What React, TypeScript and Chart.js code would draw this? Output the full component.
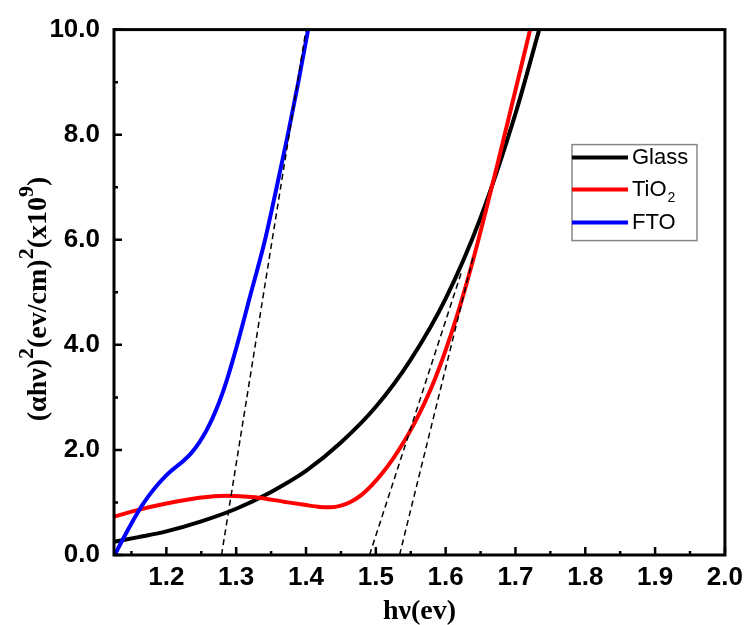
import React, { useEffect, useRef } from "react";
import { Chart, registerables } from "chart.js";

Chart.register(...registerables);

// ---- data ----
const glassX = [1.125, 1.16, 1.2, 1.25, 1.3, 1.35, 1.4, 1.45, 1.5, 1.55, 1.6, 1.65, 1.7, 1.734];
const glassY = [0.25, 0.34, 0.45, 0.64, 0.88, 1.2, 1.6, 2.14, 2.82, 3.72, 4.88, 6.42, 8.4, 10.0];

const tio2X = [1.125, 1.16, 1.2, 1.247, 1.285, 1.327, 1.37, 1.4, 1.42, 1.435, 1.45, 1.465, 1.48, 1.495, 1.51, 1.525, 1.54, 1.555, 1.57, 1.585, 1.6, 1.615, 1.63, 1.645, 1.66, 1.675, 1.69, 1.705, 1.721];
const tio2Y = [0.73, 0.86, 0.98, 1.09, 1.13, 1.1, 1.01, 0.95, 0.915, 0.91, 0.94, 1.02, 1.15, 1.34, 1.57, 1.84, 2.15, 2.5, 2.9, 3.36, 3.9, 4.5, 5.17, 5.9, 6.68, 7.48, 8.3, 9.12, 10.0];

const ftoX = [1.126, 1.133, 1.145, 1.155, 1.165, 1.175, 1.185, 1.195, 1.205, 1.215, 1.225, 1.235, 1.247, 1.257, 1.266, 1.276, 1.285, 1.301, 1.321, 1.341, 1.358, 1.374, 1.389, 1.403];
const ftoY = [0, 0.18, 0.48, 0.72, 0.94, 1.13, 1.3, 1.45, 1.58, 1.69, 1.8, 1.93, 2.14, 2.36, 2.6, 2.92, 3.26, 3.98, 4.98, 5.98, 7.0, 8.0, 9.0, 10.0];

// tangent (extrapolation) lines: [x0, x1], [y0, y1]
const ftoFitX = [1.279, 1.4];
const ftoFitY = [0, 10];
const glassFitX = [1.491, 1.623];
const glassFitY = [0, 5.4];
const tio2FitX = [1.534, 1.64];
const tio2FitY = [0, 5.71];

const xMajorTicks = [1.2, 1.3, 1.4, 1.5, 1.6, 1.7, 1.8, 1.9, 2.0];
const xMinorTicks = [1.15, 1.25, 1.35, 1.45, 1.55, 1.65, 1.75, 1.85, 1.95];
const yMajorTicks = [0, 2, 4, 6, 8, 10];
const yMinorTicks = [1, 3, 5, 7, 9];

const seriesNames = ["Glass", "TiO₂", "FTO"];
const legendMain = ["Glass", "TiO", "FTO"];
const legendSub = ["", "2", ""];
const seriesColors = ["#000000", "#ff0000", "#0000ff"];

const xTitle = "hν(ev)";
const yTitleParts: [string, boolean][] = [
  ["(αhν)", false],
  ["2", true],
  ["(ev/cm)", false],
  ["2", true],
  ["(x10", false],
  ["9", true],
  [")", false],
];

const pts = (xs: number[], ys: number[]) => xs.map((x, i) => ({ x, y: ys[i] }));

const decor = {
  id: "decor",
  afterDraw(chart: any) {
    const { ctx, chartArea: ca } = chart;
    const xs = chart.scales.x;
    const ys = chart.scales.y;
    ctx.save();
    ctx.strokeStyle = "#000";
    ctx.lineWidth = 2.5;
    ctx.beginPath();
    xMajorTicks.forEach((v) => {
      const p = xs.getPixelForValue(v);
      ctx.moveTo(p, ca.bottom);
      ctx.lineTo(p, ca.bottom - 8);
    });
    xMinorTicks.forEach((v) => {
      const p = xs.getPixelForValue(v);
      ctx.moveTo(p, ca.bottom);
      ctx.lineTo(p, ca.bottom - 4);
    });
    yMajorTicks.forEach((v) => {
      const p = ys.getPixelForValue(v);
      ctx.moveTo(ca.left, p);
      ctx.lineTo(ca.left + 8, p);
    });
    yMinorTicks.forEach((v) => {
      const p = ys.getPixelForValue(v);
      ctx.moveTo(ca.left, p);
      ctx.lineTo(ca.left + 4, p);
    });
    ctx.stroke();

    // frame
    ctx.lineWidth = 3;
    ctx.strokeRect(ca.left, ca.top, ca.right - ca.left, ca.bottom - ca.top);

    // legend
    const bx = ca.left + 458;
    const by = ca.top + 115;
    const bw = 125;
    const bh = 96;
    ctx.lineWidth = 1.5;
    ctx.strokeStyle = "#888";
    ctx.strokeRect(bx, by, bw, bh);
    const rowY = [13, 45, 78];
    ctx.textBaseline = "middle";
    ctx.textAlign = "left";
    for (let i = 0; i < 3; i++) {
      const yy = by + rowY[i];
      ctx.strokeStyle = seriesColors[i];
      ctx.lineWidth = 4;
      ctx.beginPath();
      ctx.moveTo(bx, yy);
      ctx.lineTo(bx + 56, yy);
      ctx.stroke();
      ctx.fillStyle = "#000";
      ctx.font = "22px 'Liberation Sans', Arial, sans-serif";
      ctx.fillText(legendMain[i], bx + 60, yy);
      if (legendSub[i]) {
        const w = ctx.measureText(legendMain[i]).width;
        ctx.font = "14px 'Liberation Sans', Arial, sans-serif";
        ctx.fillText(legendSub[i], bx + 60 + w + 1, yy + 9);
      }
    }

    // x title
    ctx.fillStyle = "#000";
    ctx.font = "bold 28px 'Liberation Serif', 'Times New Roman', serif";
    ctx.textAlign = "center";
    ctx.textBaseline = "alphabetic";
    ctx.fillText(xTitle, (ca.left + ca.right) / 2, 619);

    // y title (rotated, with superscripts)
    const baseFont = "bold 28px 'Liberation Serif', 'Times New Roman', serif";
    const supFont = "bold 22px 'Liberation Serif', 'Times New Roman', serif";
    let total = 0;
    yTitleParts.forEach(([t, sup]) => {
      ctx.font = sup ? supFont : baseFont;
      total += ctx.measureText(t).width;
    });
    ctx.translate(46, 299);
    ctx.rotate(-Math.PI / 2);
    ctx.textAlign = "left";
    let cx = -total / 2;
    yTitleParts.forEach(([t, sup]) => {
      ctx.font = sup ? supFont : baseFont;
      ctx.fillText(t, cx, sup ? -13 : 0);
      cx += ctx.measureText(t).width;
    });
    ctx.restore();
  },
};

export default function App() {
  const ref = useRef<HTMLCanvasElement | null>(null);
  useEffect(() => {
    document.body.style.margin = "0";
    const canvas = ref.current!;
    const solid = (label: string, xs: number[], ys: number[], color: string) => ({
      label,
      data: pts(xs, ys),
      showLine: true,
      borderColor: color,
      backgroundColor: color,
      borderWidth: 4,
      pointRadius: 0,
      cubicInterpolationMode: "monotone" as const,
      fill: false,
    });
    const dashed = (label: string, xs: number[], ys: number[]) => ({
      label,
      data: pts(xs, ys),
      showLine: true,
      borderColor: "#000",
      borderWidth: 1.5,
      borderDash: [6, 4],
      pointRadius: 0,
      fill: false,
    });
    const chart = new Chart(canvas, {
      type: "scatter",
      data: {
        datasets: [
          dashed("FTO fit", ftoFitX, ftoFitY),
          dashed("Glass fit", glassFitX, glassFitY),
          dashed("TiO2 fit", tio2FitX, tio2FitY),
          solid(seriesNames[2], ftoX, ftoY, seriesColors[2]),
          solid(seriesNames[1], tio2X, tio2Y, seriesColors[1]),
          solid(seriesNames[0], glassX, glassY, seriesColors[0]),
        ] as any,
      },
      options: {
        responsive: false,
        animation: false,
        layout: { padding: { top: 27, right: 20, left: 0, bottom: 0 } },
        plugins: { legend: { display: false }, tooltip: { enabled: false } },
        scales: {
          x: {
            type: "linear",
            min: 1.125,
            max: 2.0,
            grid: { display: false, drawTicks: false },
            border: { display: false },
            afterBuildTicks: (s: any) => {
              s.ticks = xMajorTicks.map((v) => ({ value: v }));
            },
            afterFit: (s: any) => {
              s.height = 70;
            },
            ticks: {
              padding: 7,
              color: "#000",
              maxRotation: 0,
              autoSkip: false,
              font: { family: "'Liberation Sans', Arial, sans-serif", size: 26, weight: "bold" },
              callback: (v: any) => Number(v).toFixed(1),
            },
          },
          y: {
            type: "linear",
            min: 0,
            max: 10,
            grid: { display: false, drawTicks: false },
            border: { display: false },
            afterBuildTicks: (s: any) => {
              s.ticks = yMajorTicks.map((v) => ({ value: v }));
            },
            afterFit: (s: any) => {
              s.width = 114;
            },
            ticks: {
              padding: 14,
              color: "#000",
              autoSkip: false,
              font: { family: "'Liberation Sans', Arial, sans-serif", size: 26, weight: "bold" },
              callback: (v: any) => Number(v).toFixed(1),
            },
          },
        },
      },
      plugins: [decor],
    });
    return () => chart.destroy();
  }, []);
  return (
    <div style={{ width: 750, height: 625, background: "#fff" }}>
      <canvas ref={ref} width={750} height={625} />
    </div>
  );
}
